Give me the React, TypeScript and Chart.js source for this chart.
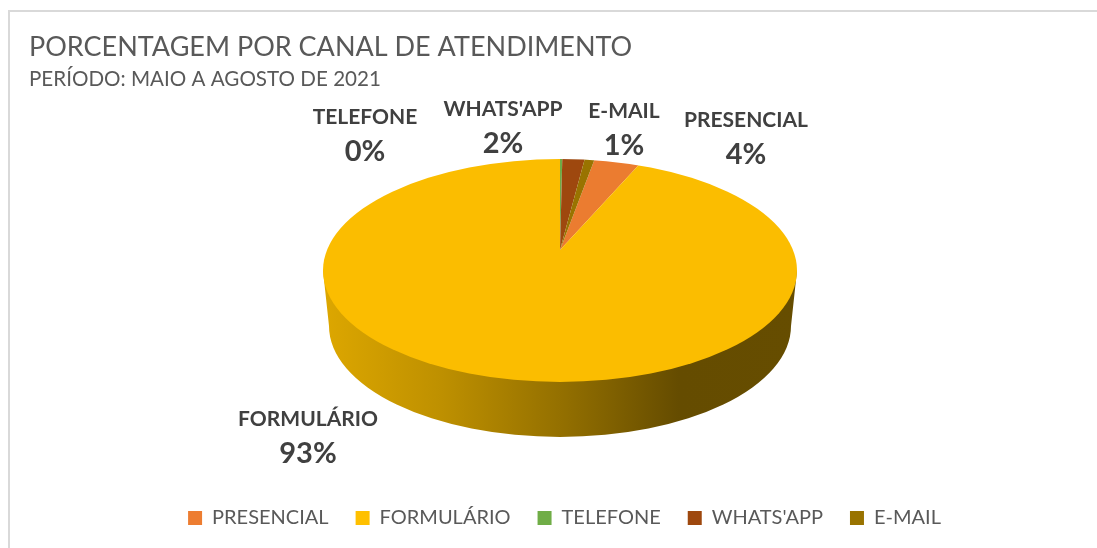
import React, { useEffect, useRef } from "react";
import { Chart, registerables } from "chart.js";

Chart.register(...registerables);

const titleText = "PORCENTAGEM POR CANAL DE ATENDIMENTO";
const subtitleText = "PERÍODO: MAIO A AGOSTO DE 2021";
const categories = ["PRESENCIAL", "FORMULÁRIO", "TELEFONE", "WHATS'APP", "E-MAIL"];
const shares = [3.9, 93.1, 0.2, 1.95, 0.85];
const faceColors = ["#EB7C30", "#FBBD00", "#6FAB46", "#9E480E", "#997300"];
const legendColors = ["#ED7D31", "#FFC000", "#70AD47", "#9E480E", "#997300"];

const FONT = "Lato, Carlito, 'Open Sans', sans-serif";
const firstAngle = 10.8;

// Projection of the pie: the slices meet above the centre of the top ellipse
const view = {
  apexX: 560, apexY: 250,
  rayX: 270, rayY: 135,
  topCy: 270.5, topRx: 237, topRy: 111.5,
  baseCy: 326, baseRx: 231, baseRy: 111,
};

// Label centres for each category, in page pixels
const labelSpots = [
  [746, 120],
  [308, 419],
  [365, 117],
  [503, 109],
  [624, 111],
];

const pie3d = {
  id: "pie3d",
  beforeDraw(chart: any) {
    const { ctx } = chart;
    ctx.save();
    ctx.strokeStyle = "#D9D9D9";
    ctx.lineWidth = 2;
    ctx.strokeRect(9, 11, 1300, 800);
    ctx.restore();
  },
  beforeDatasetsDraw(chart: any) {
    const { ctx } = chart;
    const v = view;
    // side wall
    ctx.save();
    const g = ctx.createLinearGradient(v.apexX - v.topRx, 0, v.apexX + v.topRx, 0);
    g.addColorStop(0, "#DDA700");
    g.addColorStop(0.25, "#BE9000");
    g.addColorStop(0.5, "#947000");
    g.addColorStop(0.75, "#654C00");
    g.addColorStop(1, "#664D00");
    ctx.fillStyle = g;
    ctx.beginPath();
    ctx.moveTo(v.apexX - v.topRx, v.topCy);
    ctx.lineTo(v.apexX - v.baseRx, v.baseCy);
    ctx.ellipse(v.apexX, v.baseCy, v.baseRx, v.baseRy, 0, Math.PI, 0, true);
    ctx.lineTo(v.apexX + v.topRx, v.topCy);
    ctx.closePath();
    ctx.fill();
    ctx.restore();

    // top face: slices from the doughnut controller, clipped to the ellipse
    const arc = chart.getDatasetMeta(0).data[0];
    ctx.save();
    ctx.beginPath();
    ctx.ellipse(v.apexX, v.topCy, v.topRx, v.topRy, 0, 0, Math.PI * 2);
    ctx.clip();
    ctx.translate(v.apexX, v.apexY);
    ctx.scale(v.rayX / arc.outerRadius, v.rayY / arc.outerRadius);
    ctx.translate(-arc.x, -arc.y);
  },
  afterDatasetsDraw(chart: any) {
    const { ctx } = chart;
    ctx.restore();
    const total = shares.reduce((a, b) => a + b, 0);
    ctx.save();
    ctx.fillStyle = "#404040";
    ctx.textAlign = "center";
    ctx.textBaseline = "middle";
    categories.forEach((name, i) => {
      const [x, y] = labelSpots[i];
      ctx.font = `bold 21px ${FONT}`;
      ctx.fillText(name, x, y);
      ctx.font = `bold 29px ${FONT}`;
      ctx.fillText(`${Math.round((shares[i] / total) * 100)}%`, x, y + 35);
    });
    ctx.restore();
  },
};

export default function App() {
  const ref = useRef<HTMLCanvasElement | null>(null);
  useEffect(() => {
    document.body.style.margin = "0";
    document.body.style.background = "#fff";
    const chart = new Chart(ref.current as HTMLCanvasElement, {
      type: "pie",
      data: {
        labels: categories,
        datasets: [{ data: shares, backgroundColor: faceColors, borderWidth: 0 }],
      },
      plugins: [pie3d],
      options: {
        responsive: false,
        animation: false,
        rotation: firstAngle,
        layout: { padding: { left: 29, right: -3, top: 31, bottom: 10 } },
        plugins: {
          tooltip: { enabled: false },
          title: {
            display: true,
            text: titleText,
            align: "start",
            color: "#595959",
            font: { family: FONT, size: 27, weight: "normal" },
            padding: { top: 0, bottom: 4 },
          },
          subtitle: {
            display: true,
            text: subtitleText,
            align: "start",
            color: "#595959",
            font: { family: FONT, size: 20.6, weight: "normal" },
            padding: { top: 0, bottom: 0 },
          },
          legend: {
            position: "bottom",
            labels: {
              boxWidth: 14,
              boxHeight: 14,
              padding: 27,
              color: "#595959",
              font: { family: FONT, size: 20 },
              generateLabels: () =>
                categories.map((text, i) => ({
                  text,
                  fillStyle: legendColors[i],
                  strokeStyle: legendColors[i],
                  lineWidth: 0,
                  fontColor: "#595959",
                  index: i,
                })),
            },
          },
        },
      },
    } as any);
    return () => chart.destroy();
  }, []);
  return (
    <canvas
      ref={ref}
      width={1097}
      height={548}
      style={{ display: "block", width: 1097, height: 548 }}
    />
  );
}
